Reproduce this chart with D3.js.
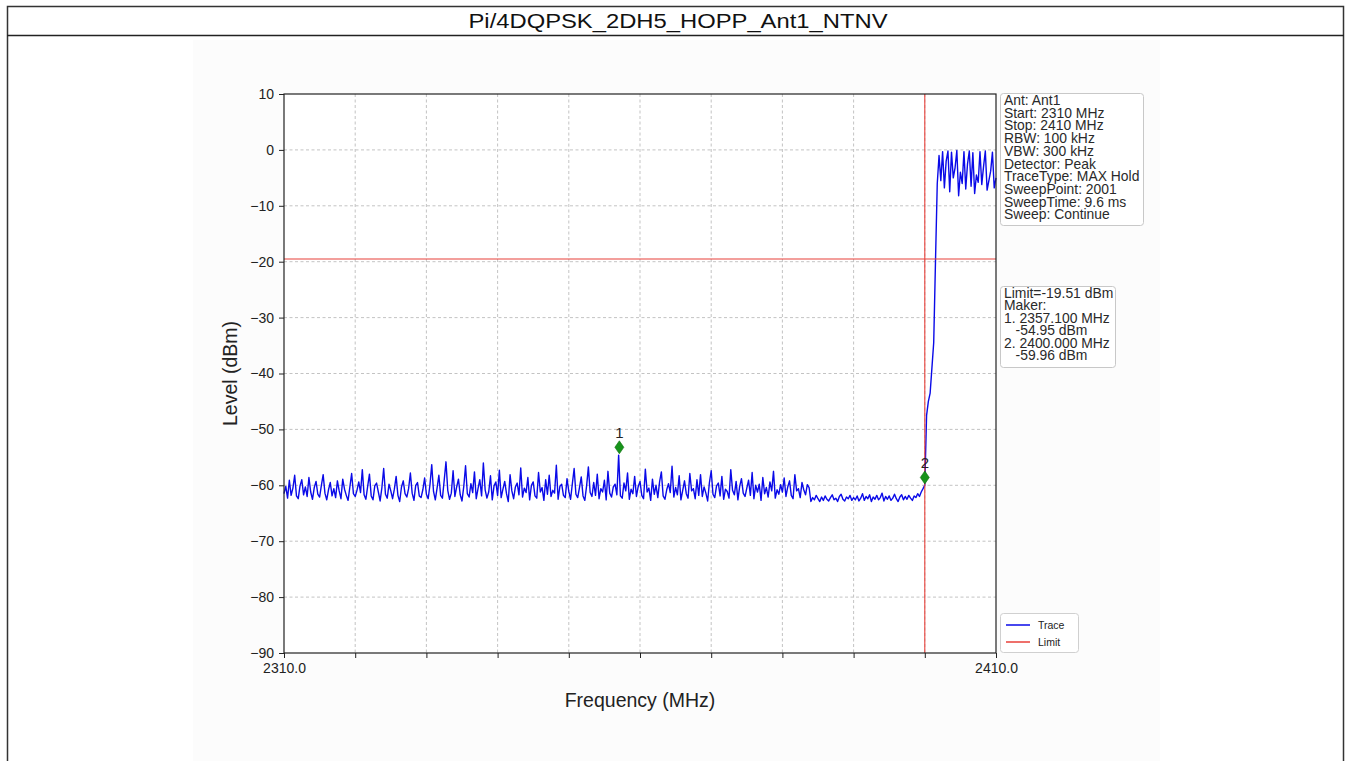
<!DOCTYPE html>
<html>
<head>
<meta charset="utf-8">
<script src="https://cdn.jsdelivr.net/npm/d3@7/dist/d3.min.js"></script>
<style>
  body { margin: 0; background: #fff; }
  svg text { font-family: "Liberation Sans", Arial, sans-serif; }
</style>
</head>
<body>
<svg id="chart" width="1348" height="761"></svg>
<script>
// --- data ---
const title = "Pi/4DQPSK_2DH5_HOPP_Ant1_NTNV";
const freqStart = 2310, freqStop = 2410, freqStep = 0.25;

// trace level (dBm), one value every 0.25 MHz, one row per 10 MHz
const traceLevels = [
  // 2310 - 2320
  -61.5,-60.2,-62.3,-59.1,-61.8,-60.5,-58.2,-61.9,-62.4,-60.1,
  -59.0,-61.7,-60.3,-62.0,-58.6,-61.2,-62.5,-60.4,-59.3,-61.6,
  -62.1,-60.0,-58.1,-61.4,-62.6,-60.8,-59.5,-61.9,-60.6,-62.2,
  -59.2,-61.0,-62.4,-58.9,-60.7,-61.8,-62.7,-60.3,-57.9,-61.5,
  // 2320 - 2330
  -62.0,-60.9,-59.4,-61.3,-57.2,-61.7,-62.5,-60.2,-58.0,-61.9,
  -62.6,-60.1,-59.6,-61.2,-62.8,-60.4,-57.0,-61.6,-62.3,-59.8,
  -61.0,-62.4,-60.7,-58.4,-61.8,-62.9,-60.3,-59.2,-61.5,-62.1,
  -60.6,-57.8,-61.4,-62.7,-60.0,-59.5,-61.9,-62.2,-60.8,-58.7,
  // 2330 - 2340
  -61.6,-62.4,-59.9,-56.3,-61.1,-62.6,-60.5,-58.2,-61.8,-62.3,
  -59.1,-55.8,-60.9,-62.5,-61.4,-57.4,-62.0,-60.3,-58.9,-61.7,
  -62.8,-60.2,-56.5,-61.5,-62.1,-59.7,-61.3,-57.6,-62.4,-60.6,
  -59.0,-61.9,-56.0,-60.8,-62.3,-61.2,-58.3,-62.6,-60.1,-59.4,
  // 2340 - 2350
  -61.8,-57.3,-62.2,-60.7,-59.3,-61.5,-62.9,-58.1,-61.0,-62.4,
  -60.3,-59.6,-61.7,-56.9,-62.1,-60.5,-61.3,-58.6,-62.6,-60.0,
  -59.4,-61.9,-62.3,-57.7,-61.2,-60.4,-62.7,-59.0,-61.6,-58.2,
  -62.0,-60.9,-61.4,-56.4,-62.5,-60.2,-59.8,-61.8,-62.2,-58.8,
  // 2350 - 2360
  -61.1,-62.5,-59.7,-57.0,-61.6,-62.2,-60.4,-58.5,-61.9,-62.7,
  -60.1,-56.7,-61.3,-62.0,-59.5,-61.8,-58.0,-62.4,-60.6,-61.2,
  -59.1,-62.6,-57.5,-61.4,-62.1,-60.3,-59.8,-61.7,-54.6,-61.9,
  -62.3,-59.6,-61.0,-57.8,-62.5,-60.7,-61.5,-58.4,-62.0,-60.2,
  // 2360 - 2370
  -59.3,-61.8,-62.4,-57.1,-61.2,-60.5,-62.7,-58.9,-61.6,-60.0,
  -62.2,-59.4,-57.6,-61.9,-62.5,-60.8,-59.7,-61.3,-56.6,-62.1,
  -60.4,-61.7,-58.3,-62.6,-60.9,-59.2,-61.5,-62.3,-57.9,-61.0,
  -60.6,-62.4,-59.0,-61.8,-58.1,-62.0,-60.3,-61.4,-62.8,-59.5,
  // 2370 - 2380
  -57.4,-61.6,-62.2,-60.1,-59.6,-61.9,-58.4,-62.5,-60.7,-61.1,
  -62.3,-57.2,-60.9,-61.7,-59.3,-62.6,-60.2,-58.8,-61.4,-62.0,
  -60.5,-59.1,-61.8,-57.7,-62.4,-60.0,-61.2,-59.8,-62.7,-58.6,
  -61.5,-60.4,-62.1,-59.4,-61.0,-57.5,-62.3,-60.8,-61.6,-59.9,
  // 2380 - 2390
  -61.2,-58.7,-62.0,-60.3,-59.2,-61.8,-62.4,-58.1,-61.0,-60.6,
  -62.2,-59.5,-60.8,-61.7,-59.9,-60.4,-62.9,-62.2,-62.6,-61.8,
  -62.4,-62.9,-62.1,-62.7,-61.9,-62.5,-62.8,-62.2,-61.7,-62.6,
  -62.3,-62.9,-62.0,-61.6,-62.5,-62.8,-62.1,-62.4,-61.8,-62.7,
  // 2390 - 2400
  -62.2,-62.6,-61.9,-62.8,-62.3,-61.5,-62.7,-62.0,-62.4,-61.7,
  -62.9,-62.1,-62.5,-61.8,-62.6,-62.2,-61.4,-62.8,-62.0,-62.5,
  -61.9,-62.7,-62.3,-61.6,-62.4,-62.9,-62.1,-61.7,-62.6,-62.0,
  -62.5,-61.8,-62.3,-62.7,-61.9,-62.2,-61.5,-62.0,-61.2,-60.6,
  // 2400 - 2410
  -59.96,-47.5,-45.0,-43.5,-39.0,-34.5,-20.0,-6.0,
  -1.0,-5.5,-0.3,-6.8,-2.0,-0.2,-7.5,-0.4,-5.0,-3.2,
  -0.1,-8.2,-4.0,-6.0,-0.3,-7.0,-2.5,-0.2,-6.5,-0.5,
  -7.8,-4.5,-5.8,-0.3,-6.2,-3.0,-0.2,-7.2,-5.5,-3.8,
  -0.4,-6.8,-5.0
];

const limitLevel = -19.51;
const limitFreq = 2400;

const markerNames = ["1", "2"];
const markerFreqs = [2357.1, 2400.0];
const markerLevels = [-53.2, -58.6];   // where the diamonds sit on the plot
const markerTexts = ["1. 2357.100 MHz", "   -54.95 dBm", "2. 2400.000 MHz", "   -59.96 dBm"];

const yTicks = [10, 0, -10, -20, -30, -40, -50, -60, -70, -80, -90];
const xTicks = [2310, 2320, 2330, 2340, 2350, 2360, 2370, 2380, 2390, 2400, 2410];
const xTickLabels = ["2310.0", "", "", "", "", "", "", "", "", "", "2410.0"];

const infoLines = [
  "Ant: Ant1", "Start: 2310 MHz", "Stop: 2410 MHz", "RBW: 100 kHz", "VBW: 300 kHz",
  "Detector: Peak", "TraceType: MAX Hold", "SweepPoint: 2001", "SweepTime: 9.6 ms", "Sweep: Continue"
];
const limitLines = ["Limit=-19.51 dBm", "Maker:"].concat(markerTexts);
const legendNames = ["Trace", "Limit"];

// --- layout ---
const plot = { left: 284, right: 996, top: 94, bottom: 653 };
const traceColor = "#0a0ae8";
const limitColor = "#e8403a";
const minus = s => String(s).replace("-", "\u2212");

const svg = d3.select("#chart");

// page frame (report table)
svg.append("rect").attr("x", 193).attr("y", 40).attr("width", 967).attr("height", 721).attr("fill", "#fcfcfc");
svg.append("rect").attr("x", 7.5).attr("y", 6.5).attr("width", 1336).attr("height", 800)
  .attr("fill", "none").attr("stroke", "#333").attr("stroke-width", 1.5);
svg.append("line").attr("x1", 7).attr("x2", 1344).attr("y1", 35.5).attr("y2", 35.5)
  .attr("stroke", "#222").attr("stroke-width", 1.5);
svg.append("text").attr("x", 678).attr("y", 28).attr("text-anchor", "middle")
  .attr("font-size", 20.5).attr("textLength", 419).attr("lengthAdjust", "spacingAndGlyphs")
  .attr("fill", "#111").text(title);

// scales
const x = d3.scaleLinear().domain([freqStart, freqStop]).range([plot.left, plot.right]);
const y = d3.scaleLinear().domain([-90, 10]).range([plot.bottom, plot.top]);

svg.append("rect").attr("x", plot.left).attr("y", plot.top)
  .attr("width", plot.right - plot.left).attr("height", plot.bottom - plot.top).attr("fill", "#fff");

// grid
const grid = svg.append("g").attr("stroke", "#b4b4b4").attr("stroke-width", 0.8).attr("stroke-dasharray", "3,2.5");
grid.selectAll(".gy").data(yTicks.slice(1, -1)).join("line")
  .attr("x1", plot.left).attr("x2", plot.right).attr("y1", d => y(d)).attr("y2", d => y(d));
grid.selectAll(".gx").data(xTicks.slice(1, -1)).join("line")
  .attr("y1", plot.top).attr("y2", plot.bottom).attr("x1", d => x(d)).attr("x2", d => x(d));

// trace
const traceData = traceLevels.map((v, i) => [freqStart + i * freqStep, v]);
svg.append("path").datum(traceData)
  .attr("fill", "none").attr("stroke", traceColor).attr("stroke-width", 1.4).attr("stroke-linejoin", "round")
  .attr("d", d3.line().x(d => x(d[0])).y(d => y(d[1])));

// limit lines
svg.append("line").attr("x1", plot.left).attr("x2", plot.right)
  .attr("y1", y(limitLevel)).attr("y2", y(limitLevel)).attr("stroke", limitColor).attr("stroke-width", 1.1);
svg.append("line").attr("x1", x(limitFreq)).attr("x2", x(limitFreq))
  .attr("y1", plot.top).attr("y2", plot.bottom).attr("stroke", limitColor).attr("stroke-width", 1.1);

// markers
const mk = svg.append("g").selectAll("g").data(markerNames).join("g")
  .attr("transform", (d, i) => `translate(${x(markerFreqs[i])},${y(markerLevels[i])})`);
mk.append("path").attr("d", "M0,-6.5L4.5,0L0,6.5L-4.5,0Z").attr("fill", "#17941a").attr("stroke", "#0b6e0e").attr("stroke-width", 0.6);
mk.append("text").attr("y", -9).attr("text-anchor", "middle").attr("font-size", 15).attr("fill", "#222").text(d => d);

// axes
const yAxis = svg.append("g").attr("transform", `translate(${plot.left},0)`)
  .call(d3.axisLeft(y).tickValues(yTicks).tickFormat(minus).tickSize(5).tickPadding(5).tickSizeOuter(0));
const xAxis = svg.append("g").attr("transform", `translate(0,${plot.bottom})`)
  .call(d3.axisBottom(x).tickValues(xTicks).tickFormat((d, i) => xTickLabels[i]).tickSize(5).tickPadding(5).tickSizeOuter(0));
[yAxis, xAxis].forEach(a => {
  a.select(".domain").remove();
  a.selectAll("line").attr("stroke", "#222").attr("stroke-width", 1);
  a.selectAll("text").attr("font-size", 14).attr("fill", "#222").attr("font-family", "Liberation Sans, Arial, sans-serif");
});
svg.append("rect").attr("x", plot.left).attr("y", plot.top)
  .attr("width", plot.right - plot.left).attr("height", plot.bottom - plot.top)
  .attr("fill", "none").attr("stroke", "#222").attr("stroke-width", 1.2);

svg.append("text").attr("x", (plot.left + plot.right) / 2).attr("y", 707).attr("text-anchor", "middle")
  .attr("font-size", 19.5).attr("fill", "#222").text("Frequency (MHz)");
svg.append("text").attr("transform", `translate(237,${(plot.top + plot.bottom) / 2}) rotate(-90)`)
  .attr("text-anchor", "middle").attr("font-size", 19.5).attr("fill", "#222").text("Level (dBm)");

// info boxes
function textBox(x0, y0, w, h, lines, step) {
  const g = svg.append("g");
  g.append("rect").attr("x", x0 + 0.5).attr("y", y0 + 0.5).attr("width", w).attr("height", h)
    .attr("rx", 3).attr("fill", "#fff").attr("stroke", "#c8c8c8");
  g.selectAll("text").data(lines).join("text")
    .attr("x", x0 + 4).attr("y", (d, i) => y0 + 12 + i * step)
    .attr("font-size", 13.9).attr("fill", "#2a2a2a").style("white-space", "pre").text(d => d);
}
textBox(1000, 93, 143, 132, infoLines, 12.7);
textBox(1000, 286, 115, 81, limitLines, 12.4);

// legend
const lg = svg.append("g");
lg.append("rect").attr("x", 1000.5).attr("y", 613.5).attr("width", 78).attr("height", 39)
  .attr("rx", 3).attr("fill", "#fff").attr("stroke", "#d0d0d0");
const items = lg.selectAll(".item").data(legendNames).join("g")
  .attr("transform", (d, i) => `translate(1006,${625 + i * 17})`);
items.append("line").attr("x1", 0).attr("x2", 24)
  .attr("stroke", (d, i) => i === 0 ? traceColor : limitColor).attr("stroke-width", 1.5);
items.append("text").attr("x", 32).attr("y", 4).attr("font-size", 10.5).attr("fill", "#222").text(d => d);
</script>
</body>
</html>
